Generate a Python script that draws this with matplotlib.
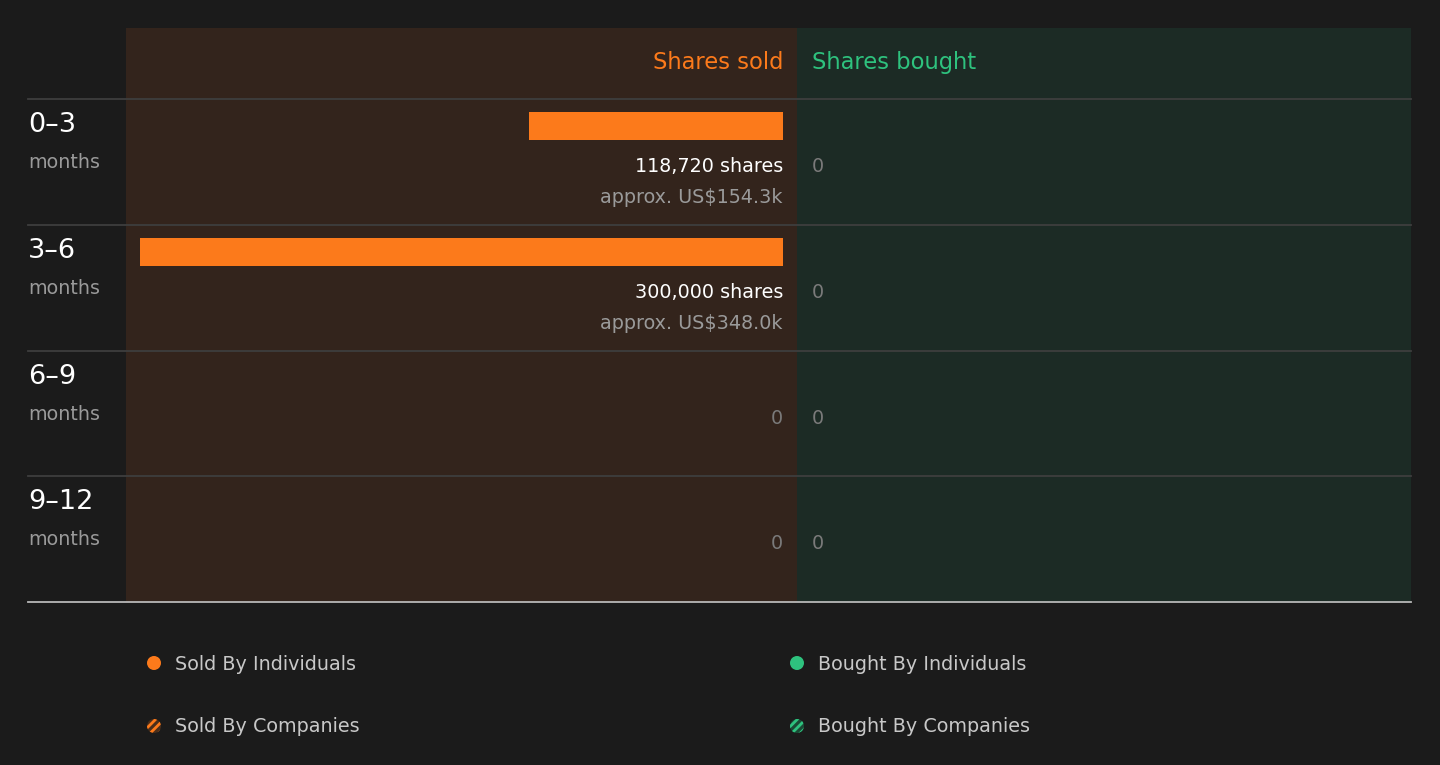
import matplotlib.pyplot as plt
from matplotlib.patches import Rectangle, Circle

# data
periods = ["0\u20133", "3\u20136", "6\u20139", "9\u201312"]
shares_sold = [118720, 300000, 0, 0]
shares_bought = [0, 0, 0, 0]
sold_usd = ["154.3k", "348.0k", None, None]
legend_labels = ["Sold By Individuals", "Bought By Individuals",
                 "Sold By Companies", "Bought By Companies"]

BG = "#1b1b1b"
SOLD_BG = "#33241c"
BOUGHT_BG = "#1c2b25"
ORANGE = "#fc7a1b"
GREEN = "#2ec27e"
GRID = "#3e3e3e"
ZERO = "#7a7a7a"

W, H = 1440, 765
fig = plt.figure(figsize=(W / 100, H / 100), dpi=100, facecolor=BG)

# background axes in pixel units
bg = fig.add_axes([0, 0, 1, 1])
bg.set_xlim(0, W)
bg.set_ylim(H, 0)
bg.axis("off")

top, head_bot, bot = 28, 99, 602
left_lbl, sold_l, mid, bought_r = 28, 126, 797, 1411
bar_end = 783
row_h = (bot - head_bot) / len(periods)

bg.add_patch(Rectangle((sold_l, top), mid - sold_l, bot - top, color=SOLD_BG, lw=0))
bg.add_patch(Rectangle((mid, top), bought_r - mid, bot - top, color=BOUGHT_BG, lw=0))

bg.text(bar_end, 62, "Shares sold", color=ORANGE, fontsize=16.3, ha="right", va="center")
bg.text(812, 62, "Shares bought", color=GREEN, fontsize=16.3, ha="left", va="center")

for i, p in enumerate(periods):
    y0 = head_bot + i * row_h
    bg.plot([left_lbl, bought_r], [y0, y0], color=GRID, lw=1.3)
    bg.text(left_lbl, y0 + 26, p, color="white", fontsize=19.5, ha="left", va="center")
    bg.text(left_lbl, y0 + 63.5, "months", color="#9a9a9a", fontsize=13.7, ha="left", va="center")
    bg.text(812, y0 + 67.5, f"{shares_bought[i]:,}", color=ZERO, fontsize=13.8,
            ha="left", va="center")
bg.plot([left_lbl, bought_r], [bot, bot], color="#b8b8b8", lw=1.3)

# bars on a share scale
ax = fig.add_axes([sold_l / W, (H - bot) / H, (mid - sold_l) / W, (bot - head_bot) / H])
px_per_share = (bar_end - 140) / max(shares_sold)
ax.set_xlim((bar_end - sold_l) / px_per_share, -(mid - bar_end) / px_per_share)
ax.set_ylim(len(periods), 0)
ax.axis("off")
ax.patch.set_alpha(0)

ys = [i + 27 / row_h for i in range(len(periods))]
ax.barh(ys, shares_sold, height=28 / row_h, left=0, color=ORANGE, lw=0)

for i, v in enumerate(shares_sold):
    if v > 0:
        ax.text(0, i + 67.5 / row_h, f"{v:,} shares", color="white", fontsize=13.8,
                ha="right", va="center")
        ax.text(0, i + 98.5 / row_h, f"approx. US${sold_usd[i]}", color="#9a9a9a",
                fontsize=13.8, ha="right", va="center")
    else:
        ax.text(0, i + 67.5 / row_h, "0", color=ZERO, fontsize=13.8, ha="right", va="center")

# legend
plt.rcParams["hatch.linewidth"] = 2.0
leg_pos = [(154, 663), (797, 663), (154, 726), (797, 726)]
leg_cols = [ORANGE, GREEN, ORANGE, GREEN]
leg_dark = [None, None, "#4a2e1a", "#1a4a35"]
for (cx, cy), lab, c, d in zip(leg_pos, legend_labels, leg_cols, leg_dark):
    if d is None:
        bg.add_patch(Circle((cx, cy), 7, color=c, lw=0))
    else:
        bg.add_patch(Circle((cx, cy), 7, facecolor=d, edgecolor=c, hatch="////", lw=0))
    bg.text(cx + 21, cy + 1, lab, color="#c8c8c8", fontsize=13.8, ha="left", va="center")

fig.savefig("out.png", dpi=100, facecolor=BG)
